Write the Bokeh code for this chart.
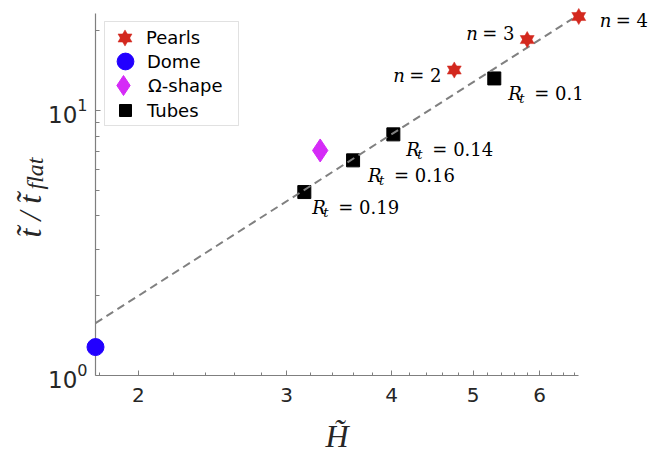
import numpy as np
from bokeh.plotting import figure
from bokeh.models import (FixedTicker, Legend, LegendItem, BoxAnnotation,
                          BasicTickFormatter, Range1d)
from bokeh.core.properties import value
from bokeh.embed import file_html
from bokeh.resources import INLINE

# ---------------- data ----------------
pearls_H = [4.75, 5.80, 6.68]
pearls_t = [14.2, 18.5, 22.6]
pearls_n = ["2", "3", "4"]

dome_H = [1.778]
dome_t = [1.28]

omega_H = [3.29]
omega_t = [7.06]

tubes_H = [3.15, 3.60, 4.02, 5.30]
tubes_t = [4.92, 6.48, 8.12, 13.2]
tubes_Rt = ["0.19", "0.16", "0.14", "0.1"]

fit_H = [1.778, 6.57]
fit_t = [1.575, 22.2]

x_major = [2, 3, 4, 5, 6]
y_major = [1, 10]
y_minor = [2, 3, 4, 5, 6, 7, 8, 9, 20]
x_lim = (1.778, 6.675)
y_lim = (1.0, 23.2)

# ---------------- layout / style ----------------
RED = "#D3281E"
BLUE = "#2200FF"
MAGENTA = "#D52BF7"
AXIS = "#7f7f7f"
TXT = "#262626"
SERIF = "DejaVu Serif"
LBL = "Liberation Serif"

x_minor = [round(v, 1) for v in np.arange(1.8, 6.7, 0.2)
           if abs(v - round(v)) > 1e-6]

p = figure(width=650, height=449, x_axis_type="log", y_axis_type="log",
           x_range=Range1d(*x_lim), y_range=Range1d(*y_lim),
           output_backend="svg", toolbar_location=None,
           min_border_left=95, min_border_right=72,
           min_border_top=13, min_border_bottom=74)
p.grid.visible = False
p.outline_line_color = None
p.background_fill_color = "white"
p.border_fill_color = "white"

# markers (overlay level so that edge markers are not clipped, as in the original)
r_tri = p.scatter(pearls_H, pearls_t, marker="triangle", size=14,
                  fill_color=RED, line_color=RED, line_width=0.5, level="overlay")
r_inv = p.scatter(pearls_H, pearls_t, marker="inverted_triangle", size=14,
                  fill_color=RED, line_color=RED, line_width=0.5, level="overlay")
r_dome = p.scatter(dome_H, dome_t, marker="circle", size=17,
                   fill_color=BLUE, line_color=BLUE, level="overlay")
r_omega = p.scatter(omega_H, omega_t, marker="diamond", size=23,
                    fill_color=MAGENTA, line_color=MAGENTA)
r_tube = p.scatter(tubes_H, tubes_t, marker="square", size=13,
                   fill_color="black", line_color="black")

# dashed fit line (drawn on top of the squares)
p.line(fit_H, fit_t, line_color="#808080", line_width=2, line_dash="8 5")

# axes
xa = p.xaxis[0]
ya = p.yaxis[0]
xa.ticker = FixedTicker(ticks=x_major, minor_ticks=x_minor)
ya.ticker = FixedTicker(ticks=y_major, minor_ticks=y_minor)
xa.formatter = BasicTickFormatter()
for ax in (xa, ya):
    ax.axis_line_color = AXIS
    ax.axis_line_width = 1.2
    ax.major_tick_line_color = AXIS
    ax.minor_tick_line_color = AXIS
    ax.major_tick_in = 5
    ax.major_tick_out = 0
    ax.minor_tick_in = 3
    ax.minor_tick_out = 0
    ax.major_label_text_color = TXT
    ax.major_label_text_font = "DejaVu Sans"
xa.major_label_text_font_size = "20px"
xa.major_label_standoff = 12
ya.major_label_text_font_size = "23px"
ya.major_label_standoff = 8
ya.minor_tick_in = 4

# legend: frame box + one entry per row (glyph box, x from frame, bottom y, standoff)
p.add_layout(BoxAnnotation(left=9, right=143, top=354, bottom=250,
                           left_units="screen", right_units="screen",
                           top_units="screen", bottom_units="screen",
                           fill_color="white", fill_alpha=1.0,
                           line_color="#9a9a9a", line_width=1))
entries = [("Pearls", [r_tri, r_inv], 35, 12, 320, 4),
           ("Dome", [r_dome], 42, 9, 293, 1),
           ("Ω-shape", [r_omega], 50, 3, 265, 0),
           ("Tubes", [r_tube], 30, 15, 250, 7)]
for lab, rends, g, vx, vy, so in entries:
    lg = Legend(items=[LegendItem(label=lab, renderers=rends)], location=(vx, vy))
    lg.glyph_height = g
    lg.glyph_width = g
    lg.label_height = 20
    lg.padding = 0
    lg.spacing = 0
    lg.margin = 0
    lg.label_standoff = so
    lg.label_text_font = "DejaVu Sans"
    lg.label_text_font_size = "18px"
    lg.label_text_color = "black"
    lg.border_line_color = None
    lg.background_fill_alpha = 0
    p.add_layout(lg, "center")

# point annotations
pearl_dx = [-61, -61, 21]
pearl_dy = [5, -6, 4]
p.text(x=pearls_H, y=pearls_t, text=["n"] * len(pearls_n),
       x_offset=pearl_dx, y_offset=pearl_dy, text_font=value(SERIF),
       text_font_style="italic", text_font_size="18px", text_color="black",
       text_baseline="alphabetic", level="overlay")
p.text(x=pearls_H, y=pearls_t, text=["= " + k for k in pearls_n],
       x_offset=[d + 16 for d in pearl_dx], y_offset=pearl_dy,
       text_font=value(SERIF), text_font_size="18px", text_color="black",
       text_baseline="alphabetic", level="overlay")

tube_dx = [8, 15, 13, 14]
p.text(x=tubes_H, y=tubes_t, text=["R"] * len(tubes_Rt),
       x_offset=tube_dx, y_offset=15, text_font=value(SERIF),
       text_font_style="italic", text_font_size="18px", text_color="black",
       text_baseline="alphabetic", level="overlay")
p.text(x=tubes_H, y=tubes_t, text=["t"] * len(tubes_Rt),
       x_offset=[d + 11 for d in tube_dx], y_offset=20, text_font=value(SERIF),
       text_font_style="italic", text_font_size="13px", text_color="black",
       text_baseline="alphabetic", level="overlay")
p.text(x=tubes_H, y=tubes_t, text=["= " + r for r in tubes_Rt],
       x_offset=[d + 26 for d in tube_dx], y_offset=15,
       text_font=value(SERIF), text_font_size="18px", text_color="black",
       text_baseline="alphabetic", level="overlay")

# axis titles, anchored to the axes' corner / centre
x_mid = float(np.sqrt(x_lim[0] * x_lim[1]))
p.text(x=[x_mid], y=[y_lim[0]], text=["H\u0303"], y_offset=60,
       text_font=value(LBL), text_font_style="italic", text_font_size="32px",
       text_color=TXT, text_align="center", text_baseline="alphabetic",
       level="overlay")
p.text(x=[x_lim[0]], y=[y_lim[0]], text=["t\u0303 / t\u0303"],
       x_offset=-66, y_offset=-138, angle=np.pi / 2,
       text_font=value(LBL), text_font_style="italic", text_font_size="32px",
       text_color=TXT, text_align="left", text_baseline="alphabetic",
       level="overlay")
p.text(x=[x_lim[0]], y=[y_lim[0]], text=["flat"],
       x_offset=-61, y_offset=-186, angle=np.pi / 2,
       text_font=value(LBL), text_font_style="italic", text_font_size="24px",
       text_color=TXT, text_align="left", text_baseline="alphabetic",
       level="overlay")

open("out.html", "w").write(file_html(p, INLINE))
